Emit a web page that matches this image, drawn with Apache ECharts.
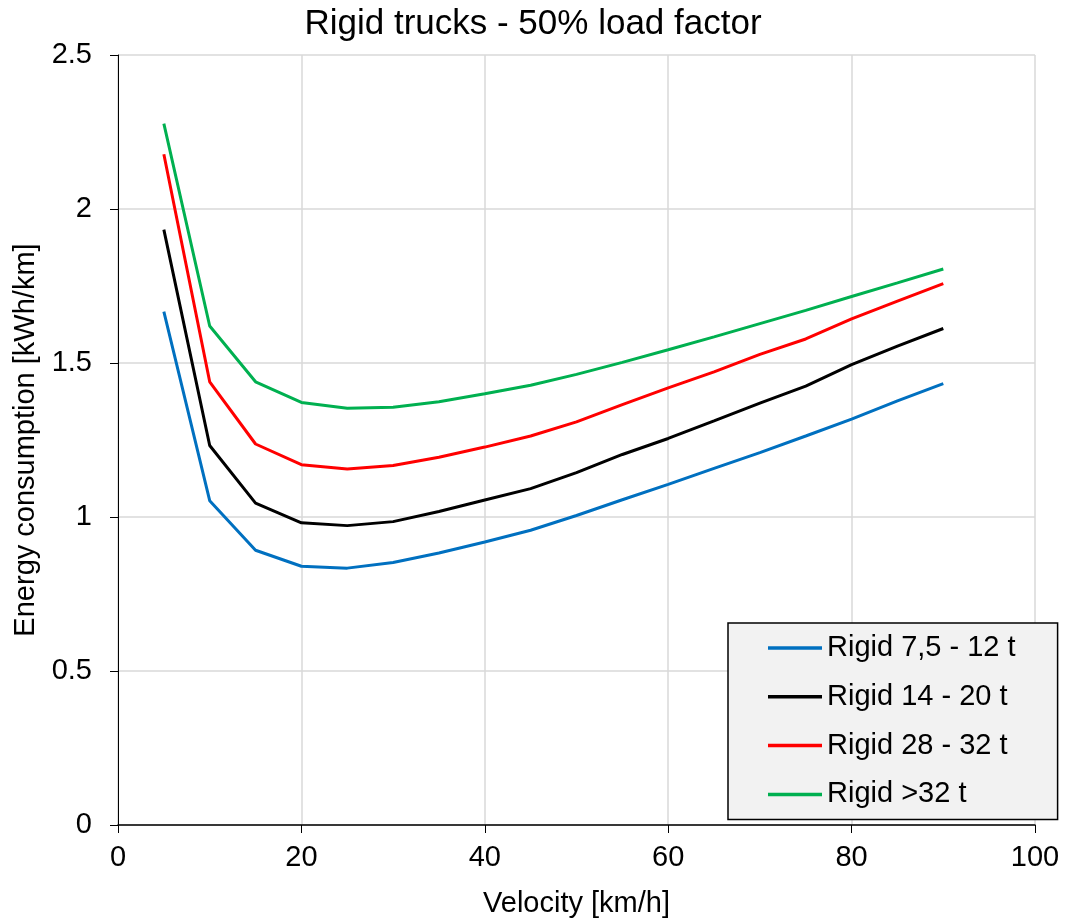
<!DOCTYPE html>
<html>
<head>
<meta charset="utf-8">
<script src="https://cdn.jsdelivr.net/npm/echarts@6/dist/echarts.min.js"></script>
<style>html,body{margin:0;padding:0;background:#fff}#chart{width:1066px;height:923px}</style>
</head>
<body>
<div id="chart"></div>
<script>
const velocity = [5, 10, 15, 20, 25, 30, 35, 40, 45, 50, 55, 60, 65, 70, 75, 80, 85, 90];
const rigid7_12 = [1.667, 1.053, 0.892, 0.840, 0.834, 0.852, 0.883, 0.919, 0.957, 1.005, 1.056, 1.106, 1.158, 1.209, 1.263, 1.318, 1.377, 1.433];
const rigid14_20 = [1.933, 1.232, 1.045, 0.981, 0.972, 0.985, 1.018, 1.055, 1.092, 1.144, 1.203, 1.255, 1.312, 1.370, 1.425, 1.495, 1.555, 1.612];
const rigid28_32 = [2.178, 1.439, 1.237, 1.170, 1.156, 1.167, 1.194, 1.227, 1.263, 1.309, 1.365, 1.419, 1.471, 1.528, 1.578, 1.643, 1.701, 1.758];
const rigid32plus = [2.277, 1.620, 1.439, 1.372, 1.353, 1.356, 1.374, 1.400, 1.428, 1.463, 1.502, 1.543, 1.585, 1.628, 1.671, 1.716, 1.760, 1.805];
const seriesNames = ['Rigid 7,5 - 12 t', 'Rigid 14 - 20 t', 'Rigid 28 - 32 t', 'Rigid >32 t'];
const seriesData = [rigid7_12, rigid14_20, rigid28_32, rigid32plus];
const colors = ['#0070C0', '#000000', '#FF0000', '#00B050'];

const FONT = 'Liberation Sans, Arial, sans-serif';
const chart = echarts.init(document.getElementById('chart'));
chart.setOption({
  animation: false,
  backgroundColor: '#ffffff',
  title: {
    text: 'Rigid trucks - 50% load factor',
    left: 'center',
    top: 2,
    textStyle: { fontFamily: FONT, fontSize: 35, fontWeight: 'normal', color: '#000' }
  },
  grid: { left: 118, right: 31, top: 55, bottom: 96, containLabel: false },
  legend: {
    orient: 'vertical',
    left: 728,
    top: 623,
    backgroundColor: '#f2f2f2',
    borderColor: '#000',
    borderWidth: 1.5,
    borderRadius: 0,
    padding: [10, 42, 10, 40],
    itemGap: 18.8,
    itemWidth: 54,
    itemHeight: 3.5,
    icon: 'rect',
    textStyle: { fontFamily: FONT, fontSize: 29, color: '#000', lineHeight: 30 },
    data: seriesNames
  },
  xAxis: {
    type: 'value',
    min: 0, max: 100, interval: 20,
    name: 'Velocity [km/h]',
    nameLocation: 'middle',
    nameGap: 64,
    nameTextStyle: { fontFamily: FONT, fontSize: 29, color: '#000' },
    axisLine: { show: true, lineStyle: { color: '#000', width: 1.5 } },
    axisTick: { show: true, length: 8, lineStyle: { color: '#000' } },
    axisLabel: { fontFamily: FONT, fontSize: 29, color: '#000', margin: 18 },
    splitLine: { show: true, lineStyle: { color: '#d9d9d9', width: 1.5 } }
  },
  yAxis: {
    type: 'value',
    min: 0, max: 2.5, interval: 0.5,
    name: 'Energy consumption [kWh/km]',
    nameLocation: 'middle',
    nameGap: 70,
    nameTextStyle: { fontFamily: FONT, fontSize: 29, color: '#000' },
    axisLine: { show: true, lineStyle: { color: '#000', width: 1 } },
    axisTick: { show: true, length: 8, lineStyle: { color: '#000' } },
    axisLabel: { fontFamily: FONT, fontSize: 29, color: '#000', margin: 26 },
    splitLine: { show: true, lineStyle: { color: '#d9d9d9', width: 1.5 } }
  },
  series: seriesNames.map((name, i) => ({
    name: name,
    type: 'line',
    data: velocity.map((v, j) => [v, seriesData[i][j]]),
    showSymbol: false,
    symbol: 'none',
    smooth: false,
    color: colors[i],
    lineStyle: { color: colors[i], width: 3 }
  }))
});
</script>
</body>
</html>
